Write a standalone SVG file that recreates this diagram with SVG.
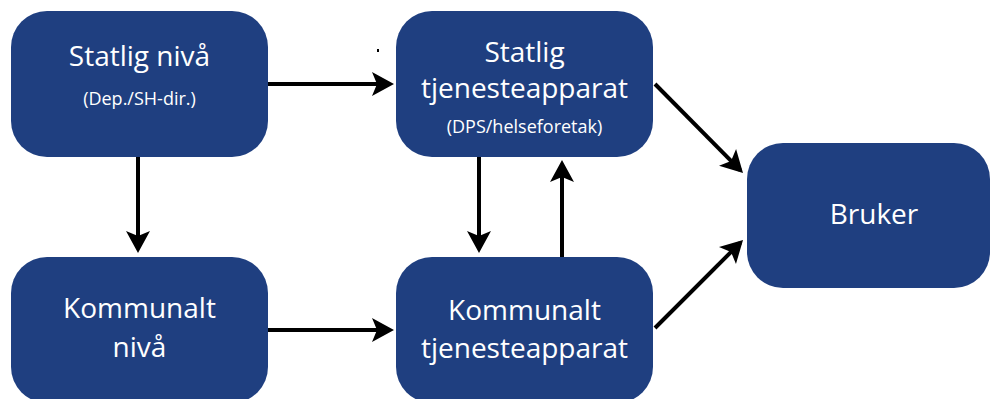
<svg xmlns="http://www.w3.org/2000/svg" width="991" height="399" viewBox="0 0 991 399">
<style>
.node{fill:#1f3f80}
.t{fill:#ffffff;font-family:"Open Sans","Noto Sans",sans-serif;font-size:28px;text-anchor:middle}
.s{font-size:18px}
.c{stroke:#000;stroke-width:4;fill:none;marker-end:url(#ah)}
</style>
<defs>
<marker id="ah" markerUnits="userSpaceOnUse" markerWidth="24" markerHeight="26" refX="18" refY="12" orient="auto" overflow="visible">
<path d="M0,0 L22,12 L0,24 L5,12 Z" fill="#000"/>
</marker>
</defs>
<rect width="991" height="399" fill="#fff"/>
<g id="n1">
<rect class="node" x="11" y="11" width="257" height="146" rx="36"/>
<text class="t" x="139.5" y="66">Statlig nivå</text>
<text class="t s" x="139.5" y="105">(Dep./SH-dir.)</text>
</g>
<g id="n2">
<rect class="node" x="396" y="11" width="257" height="146" rx="36"/>
<text class="t" x="524.5" y="62">Statlig</text>
<text class="t" x="524.5" y="98">tjenesteapparat</text>
<text class="t s" x="524.5" y="133">(DPS/helseforetak)</text>
</g>
<g id="n3">
<rect class="node" x="11" y="257" width="257" height="146" rx="36"/>
<text class="t" x="139.5" y="318">Kommunalt</text>
<text class="t" x="139.5" y="357">nivå</text>
</g>
<g id="n4">
<rect class="node" x="396" y="257" width="257" height="146" rx="36"/>
<text class="t" x="524.5" y="320">Kommunalt</text>
<text class="t" x="524.5" y="358">tjenesteapparat</text>
</g>
<g id="n5">
<rect class="node" x="747" y="143" width="243" height="145" rx="36"/>
<text class="t" x="874" y="224">Bruker</text>
</g>
<g id="connectors">
<line class="c" x1="268" y1="84" x2="390" y2="84"/>
<line class="c" x1="268" y1="330" x2="390" y2="330"/>
<line class="c" x1="138" y1="157" x2="138" y2="249"/>
<line class="c" x1="479" y1="157" x2="479" y2="249"/>
<line class="c" x1="562" y1="257" x2="562" y2="164"/>
<line class="c" x1="655" y1="84" x2="740.2" y2="170.2"/>
<line class="c" x1="655" y1="328" x2="740.2" y2="242.8"/>
</g>
<rect x="377" y="49" width="2" height="3" fill="#000"/>
</svg>
